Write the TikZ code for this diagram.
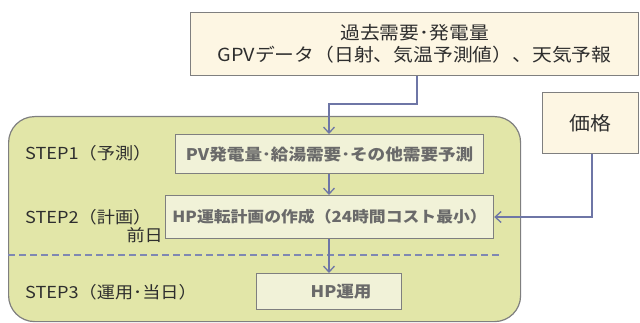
\documentclass[tikz,border=0pt]{standalone}
\usepackage{fontspec}
\setmainfont{Noto Sans CJK JP}
\newfontfamily\wfont[FakeStretch=1.1]{Noto Sans CJK JP}
\usetikzlibrary{arrows.meta}
\definecolor{cream}{HTML}{FDF6E3}
\definecolor{olive}{HTML}{E2E6A8}
\definecolor{inner}{HTML}{F1F2D8}
\definecolor{bord}{HTML}{7F7F7F}
\definecolor{conn}{HTML}{6E76A6}
\definecolor{dashcol}{HTML}{7F88B2}
\definecolor{txtgray}{HTML}{6A6A6A}
\definecolor{txtdark}{HTML}{2E2E2E}
\tikzset{
  inbox/.style={draw=bord, line width=1.2pt, fill=cream, inner sep=0pt, anchor=north west},
  stepbox/.style={draw=bord, line width=1.2pt, fill=inner, inner sep=0pt, anchor=north west, text=txtgray, font=\wfont\fontsize{16}{18}\selectfont\bfseries},
  steplabel/.style={anchor=west, text=txtdark, font=\wfont\fontsize{16.5}{18}\selectfont, inner sep=0pt},
  conarrow/.style={draw=conn, line width=1.3pt, -{Straight Barb[length=6pt,width=11pt,line width=1.3pt]}},
  divider/.style={draw=dashcol, line width=1.8pt, dash pattern=on 6.5pt off 4.5pt},
}
\begin{document}
\begin{tikzpicture}[x=1pt,y=-1pt]
\useasboundingbox (0,0) rectangle (640,323);
% big rounded panel
\node[draw=bord, line width=1.2pt, fill=olive, rounded corners=26pt, minimum width=512pt, minimum height=205pt, anchor=north west, inner sep=0pt] (panel) at (8,116) {};
% top input box
\node[inbox, minimum width=448pt, minimum height=63pt, text=txtdark, align=center, font=\wfont\fontsize{18}{22}\selectfont] (inp) at (190,12) {過去需要･発電量\\GPVデータ（日射、気温予測値）、天気予報};
% price box
\node[inbox, minimum width=96pt, minimum height=61pt, text=txtdark, font=\wfont\fontsize{19}{22}\selectfont] (price) at (542,92) {価格};
% step boxes
\node[stepbox, minimum width=308pt, minimum height=39pt] (pv) at (175,134) {PV発電量･給湯需要･その他需要予測};
\node[stepbox, minimum width=328pt, minimum height=43pt, font=\wfont\fontsize{15.3}{18}\selectfont\bfseries] (plan) at (165,195) {HP運転計画の作成（24時間コスト最小）};
\node[stepbox, minimum width=145pt, minimum height=36pt] (op) at (256,273) {\hspace*{24pt}HP運用};
% labels
\node[steplabel] (s1) at (25,153) {STEP1（予測）};
\node[steplabel] (s2) at (25,217) {STEP2（計画）};
\node[steplabel, anchor=east] (zen) at (163,235) {前日};
\node[steplabel] (s3) at (25,292) {STEP3（運用･当日）};
% dashed divider
\coordinate (dl) at (8,255);
\coordinate (dr) at (503,255);
\draw[divider] (dl) -- (dr);
% connectors
\coordinate (e1) at (417,104);
\coordinate (e2) at (329,104);
\draw[conarrow] (inp.south -| e1) -- (e1) -- (e2) -- (e2 |- pv.north);
\draw[conarrow] (pv.south -| e2) -- (e2 |- plan.north);
\draw[conarrow] (plan.south -| e2) -- (e2 |- op.north);
\coordinate (p1) at (592,217);
\draw[conarrow] (price.south -| p1) -- (p1) -- (plan.east |- p1);
\end{tikzpicture}
\end{document}
